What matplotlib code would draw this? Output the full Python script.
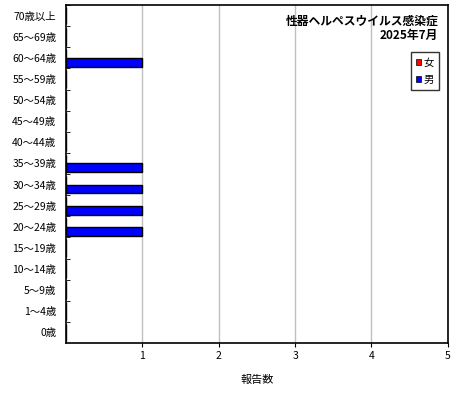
import matplotlib
matplotlib.use("Agg")
import matplotlib.pyplot as plt
import numpy as np
from matplotlib.patches import Patch

plt.rcParams['font.family'] = ['Noto Sans CJK JP', 'DejaVu Sans']

# age groups, bottom to top
ages = ["0歳", "1～4歳", "5～9歳", "10～14歳", "15～19歳", "20～24歳", "25～29歳",
        "30～34歳", "35～39歳", "40～44歳", "45～49歳", "50～54歳", "55～59歳",
        "60～64歳", "65～69歳", "70歳以上"]
female = [0, 0, 0, 0, 0, 0, 0, 0, 0, 0, 0, 0, 0, 0, 0, 0]
male = [0, 0, 0, 0, 0, 1, 1, 1, 1, 0, 0, 0, 0, 1, 0, 0]
xticks = [1, 2, 3, 4, 5]
title = "性器ヘルペスウイルス感染症"
period = "2025年7月"


def main():
    fig = plt.figure(figsize=(4.6, 4.0), dpi=100)
    ax = fig.add_axes([0.1435, 0.1425, 0.830, 0.845])

    y = np.arange(len(ages))
    h = 0.42
    ax.barh(y, female, height=h, align='edge', color='#FF0000',
            edgecolor='black', linewidth=1, zorder=3)
    ax.barh(y, male, height=-h, align='edge', color='#0000FF',
            edgecolor='black', linewidth=1, zorder=3)

    ax.set_xlim(0, 5)
    ax.set_ylim(-0.5, len(ages) - 0.5)
    ax.set_xticks(xticks)
    ax.set_xticklabels([str(t) for t in xticks], fontsize=7.5)
    ax.set_yticks(y)
    ax.set_yticklabels(ages, fontsize=7.5)
    ax.set_yticks(np.arange(len(ages)) + 0.5, minor=True)
    ax.tick_params(axis='y', which='major', length=0, pad=7)
    ax.tick_params(axis='y', which='minor', direction='in', length=3)
    ax.tick_params(axis='x', which='major', length=3, direction='out', pad=3)
    ax.grid(axis='x', color='#C0C0C0', linewidth=1, zorder=0)
    for s in ax.spines.values():
        s.set_linewidth(1.2)

    ax.set_xlabel("報告数", fontsize=8, labelpad=10)

    ax.text(0.975, 0.972, title, transform=ax.transAxes, ha='right', va='top',
            fontsize=8.5, fontweight='bold')
    ax.text(0.975, 0.930, period, transform=ax.transAxes, ha='right', va='top',
            fontsize=8.5, fontweight='bold')

    handles = [Patch(facecolor='#FF0000', edgecolor='black', linewidth=0.5),
               Patch(facecolor='#0000FF', edgecolor='black', linewidth=0.5)]
    leg = ax.legend(handles, ["女", "男"], loc='upper right',
                    bbox_to_anchor=(0.977, 0.86), fontsize=7.5, frameon=True,
                    fancybox=False, handlelength=0.5, handleheight=0.5,
                    handletextpad=0.2, borderpad=0.5, labelspacing=0.7,
                    borderaxespad=0)
    leg.get_frame().set_edgecolor('black')
    leg.get_frame().set_linewidth(1)

    fig.savefig("out.png", dpi=100)


if __name__ == '__main__':
    main()
